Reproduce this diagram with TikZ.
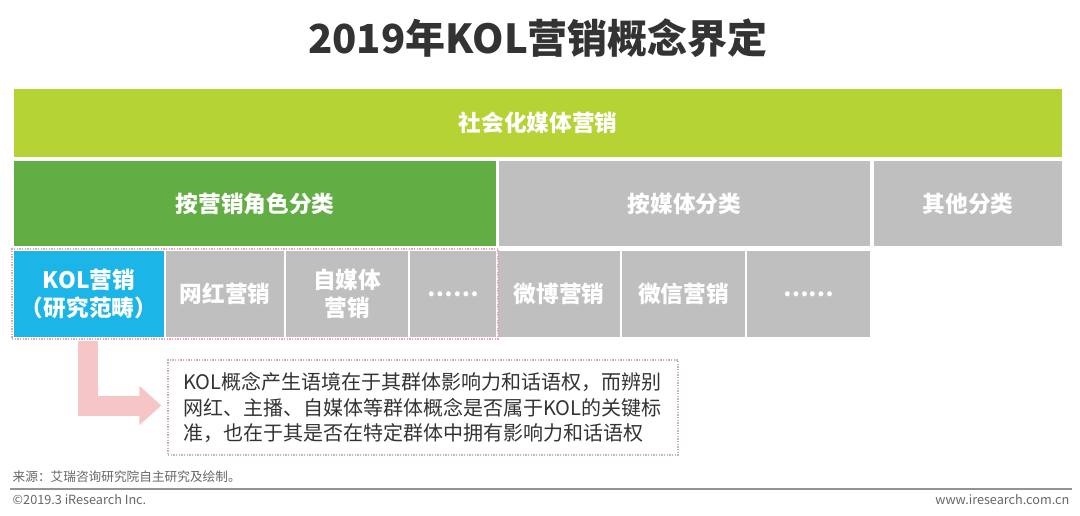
\documentclass[tikz,border=0pt]{standalone}
\usepackage{fontspec}
\setmainfont{Noto Sans CJK SC}
\usetikzlibrary{arrows.meta,fit}
\definecolor{lime}{HTML}{B5D334}
\definecolor{leaf}{HTML}{62AE44}
\definecolor{sky}{HTML}{1CB5E8}
\definecolor{boxgray}{HTML}{BFBFBF}
\definecolor{arrowpink}{HTML}{F6C6C6}
\definecolor{dotpink}{HTML}{E9A3AE}
\definecolor{dotgray}{HTML}{C8B4B4}
\definecolor{ink}{HTML}{333333}
\definecolor{foot}{HTML}{666666}
\tikzset{
  cell/.style={draw=white, line width=1.5pt, text=white, font=\fontsize{17pt}{21pt}\selectfont\bfseries,
    align=center, inner sep=0pt, anchor=center},
  footnote/.style={text=foot, font=\fontsize{9.5pt}{11pt}\selectfont},
}
\begin{document}
\begin{tikzpicture}[x=0.75pt,y=-0.75pt]
\useasboundingbox (0,0) rectangle (1080,516);
% title
\node[font=\fontsize{30pt}{36pt}\selectfont\bfseries, text=ink] (title) at (538,38) {2019年KOL营销概念界定};
% row 1
\node[cell, fill=lime, minimum width=1050*0.75pt, minimum height=70*0.75pt] (top) at (538,123) {社会化媒体营销};
% row 2
\node[cell, fill=leaf, minimum width=484*0.75pt, minimum height=87*0.75pt] (role) at (255,203.5) {按营销角色分类};
\node[cell, fill=boxgray, minimum width=373*0.75pt, minimum height=87*0.75pt] (media) at (684.5,203.5) {按媒体分类};
\node[cell, fill=boxgray, minimum width=190*0.75pt, minimum height=87*0.75pt] (other) at (968,203.5) {其他分类};
% row 3
\node[cell, fill=sky, minimum width=152*0.75pt, minimum height=88*0.75pt] (kol) at (89,294) {KOL营销\\（研究范畴）};
\node[cell, fill=boxgray, minimum width=120*0.75pt, minimum height=88*0.75pt] (wh) at (225,294) {网红营销};
\node[cell, fill=boxgray, minimum width=124*0.75pt, minimum height=88*0.75pt] (zmt) at (347,294) {自媒体\\营销};
\node[cell, fill=boxgray, minimum width=88*0.75pt, minimum height=88*0.75pt] (dots1) at (453,294) {……};
\node[cell, fill=boxgray, minimum width=124*0.75pt, minimum height=88*0.75pt] (wb) at (559,294) {微博营销};
\node[cell, fill=boxgray, minimum width=125*0.75pt, minimum height=88*0.75pt] (wx) at (683.5,294) {微信营销};
\node[cell, fill=boxgray, minimum width=125*0.75pt, minimum height=88*0.75pt] (dots2) at (808.5,294) {……};
% pink dotted frame around role-based cells
\node[draw=dotpink, densely dotted, line width=1pt, inner sep=0pt, fit=(kol)(dots1)] (frame) {};
% description box
\node[draw=dotgray, densely dotted, line width=1pt, minimum width=510*0.75pt, minimum height=95*0.75pt,
      text width=480*0.75pt, align=left, inner sep=0pt, text=ink,
      font=\fontsize{15pt}{19pt}\selectfont] (desc) at (423,407.5)
  {KOL概念产生语境在于其群体影响力和话语权，而辨别\\网红、主播、自媒体等群体概念是否属于KOL的关键标\\准，也在于其是否在特定群体中拥有影响力和话语权};
% arrow
\draw[arrowpink, line width=20*0.75pt, -{Triangle[length=22*0.75pt, width=38*0.75pt]}, shorten >=6*0.75pt]
  ([xshift=-1*0.75pt, yshift=-2*0.75pt]kol.south) |- ([yshift=2*0.75pt]desc.west);
% footer
\node[anchor=west, footnote] (src) at (8,477) {来源：艾瑞咨询研究院自主研究及绘制。};
\coordinate (ruleL) at (10,489);
\coordinate (ruleR) at (1072,489);
\draw[draw=gray!85, line width=1.5pt] (ruleL) -- (ruleR);
\node[anchor=west, footnote] (copy) at (8,500) {©2019.3 iResearch Inc.};
\node[anchor=east, footnote] (web) at (1074,500) {www.iresearch.com.cn};
\end{tikzpicture}
\end{document}
